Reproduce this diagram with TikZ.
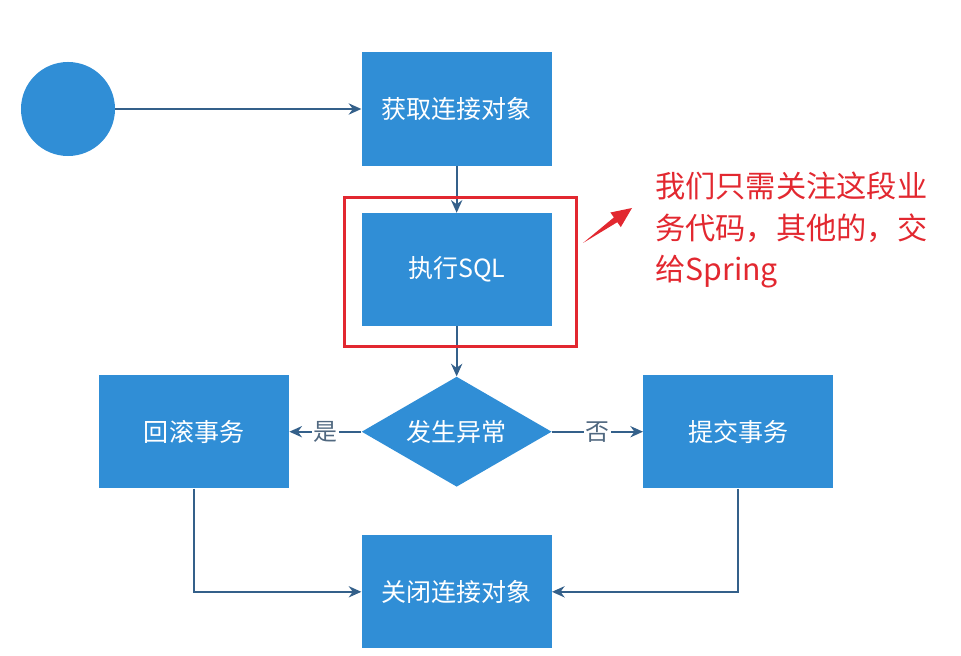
\documentclass[tikz,border=0pt]{standalone}
\usepackage{fontspec}
\setmainfont{Noto Sans CJK SC}
\usetikzlibrary{positioning}
\usetikzlibrary{shapes.geometric}
\usetikzlibrary{arrows.meta}

\definecolor{boxblue}{RGB}{48,142,214}
\definecolor{linkblue}{RGB}{52,96,138}
\definecolor{labelgrey}{RGB}{80,104,128}
\definecolor{notered}{RGB}{226,40,48}

\begin{document}
\begin{tikzpicture}[
    x=0.025cm, y=0.025cm,
    startstop/.style={circle,fill=boxblue,minimum size=2.35cm,inner sep=0pt},
    process/.style={rectangle,fill=boxblue,text=white,minimum width=4.75cm,minimum height=2.825cm,
      font=\fontsize{17.8pt}{20pt}\selectfont},
    decide/.style={diamond,aspect=1.727,fill=boxblue,text=white,minimum width=4.75cm,minimum height=2.75cm,
      inner sep=0pt,font=\fontsize{17.8pt}{20pt}\selectfont},
    arr/.style={line width=1.4pt,draw=linkblue,-{Stealth[length=9pt,width=8pt]}},
    lbl/.style={fill=white,text=labelgrey,inner sep=1pt,font=\fontsize{17pt}{18pt}\selectfont},
    focus/.style={draw=notered,line width=2.1pt},
    note/.style={text=notered,align=left,font=\fontsize{21.5pt}{29.5pt}\selectfont}
    ]
    \useasboundingbox (0,0) rectangle (961,-656);
    \node (start) [startstop] at (68,-109) {};
    \node (get) [process,right=6.15cm of start] {获取连接对象};
    \node (sql) [process,below=1.175cm of get] {执行SQL};
    \node (exc) [decide,below=1.25cm of sql] {发生异常};
    \node (rollback) [process,left=1.8cm of exc] {回滚事务};
    \node (commit) [process,right=2.275cm of exc] {提交事务};
    \node (close) [process,below=1.2cm of exc] {关闭连接对象};
    \draw[arr] (start) -- (get);
    \draw[arr] (get) -- (sql);
    \draw[arr] (sql) -- (exc);
    \draw[arr] (exc) -- node[lbl] {是} (rollback);
    \draw[arr] (exc) -- node[lbl] {否} (commit);
    \draw[arr] (rollback) |- (close);
    \draw[arr] (commit) |- (close);
    % red frame and remark
    \draw[focus] ([shift={(-17,15)}]sql.north west) rectangle ([shift={(25,-20)}]sql.south east);
    \node (remark) [note,anchor=north west,inner sep=0pt] at (655,-172) {我们只需关注这段业\\务代码，其他的，交\\给Spring};
    \coordinate (tail) at (583,-243);
    \coordinate (tip) at (632,-208);
    \fill[notered] (tail) -- (617.3,-222.2) -- (620.8,-227.1) -- (tip) -- (610.4,-212.5) -- (613.9,-217.4) -- cycle;
  \end{tikzpicture}
\end{document}
